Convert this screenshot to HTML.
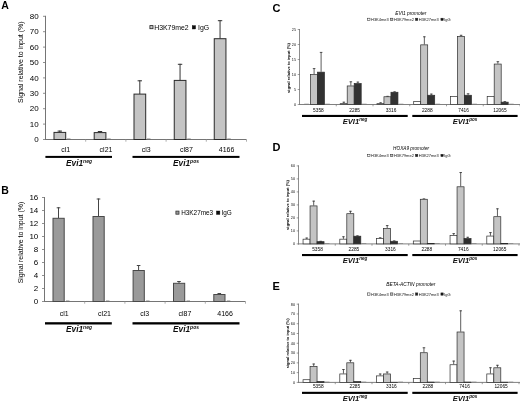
<!DOCTYPE html>
<html><head><meta charset="utf-8"><title>Figure</title>
<style>html,body{margin:0;padding:0;background:#fff;}svg{display:block;}text{font-family:"Liberation Sans",sans-serif;}</style>
</head><body>
<svg width="520" height="401" viewBox="0 0 520 401">
<defs><filter id="soft" x="0" y="0" width="100%" height="100%" filterUnits="userSpaceOnUse"><feGaussianBlur stdDeviation="0.25"/></filter></defs>
<rect width="520" height="401" fill="#fff"/>
<g filter="url(#soft)">
<rect width="520" height="401" fill="#fff"/>
<text x="1.2" y="8.9" font-size="10.5" text-anchor="start" font-weight="bold" font-style="normal" fill="#000" >A</text>
<line x1="45.50" y1="15.80" x2="45.50" y2="140.00" stroke="#747474" stroke-width="1"/>
<line x1="45.00" y1="139.50" x2="246.50" y2="139.50" stroke="#747474" stroke-width="1"/>
<line x1="43.00" y1="139.50" x2="45.50" y2="139.50" stroke="#747474" stroke-width="0.8"/>
<text x="38.6" y="142.25" font-size="8" text-anchor="end" font-weight="normal" font-style="normal" fill="#000" >0</text>
<line x1="43.00" y1="124.10" x2="45.50" y2="124.10" stroke="#747474" stroke-width="0.8"/>
<text x="38.6" y="126.85" font-size="8" text-anchor="end" font-weight="normal" font-style="normal" fill="#000" >10</text>
<line x1="43.00" y1="108.70" x2="45.50" y2="108.70" stroke="#747474" stroke-width="0.8"/>
<text x="38.6" y="111.45" font-size="8" text-anchor="end" font-weight="normal" font-style="normal" fill="#000" >20</text>
<line x1="43.00" y1="93.30" x2="45.50" y2="93.30" stroke="#747474" stroke-width="0.8"/>
<text x="38.6" y="96.05" font-size="8" text-anchor="end" font-weight="normal" font-style="normal" fill="#000" >30</text>
<line x1="43.00" y1="77.90" x2="45.50" y2="77.90" stroke="#747474" stroke-width="0.8"/>
<text x="38.6" y="80.65" font-size="8" text-anchor="end" font-weight="normal" font-style="normal" fill="#000" >40</text>
<line x1="43.00" y1="62.50" x2="45.50" y2="62.50" stroke="#747474" stroke-width="0.8"/>
<text x="38.6" y="65.25" font-size="8" text-anchor="end" font-weight="normal" font-style="normal" fill="#000" >50</text>
<line x1="43.00" y1="47.10" x2="45.50" y2="47.10" stroke="#747474" stroke-width="0.8"/>
<text x="38.6" y="49.849999999999994" font-size="8" text-anchor="end" font-weight="normal" font-style="normal" fill="#000" >60</text>
<line x1="43.00" y1="31.70" x2="45.50" y2="31.70" stroke="#747474" stroke-width="0.8"/>
<text x="38.6" y="34.45" font-size="8" text-anchor="end" font-weight="normal" font-style="normal" fill="#000" >70</text>
<line x1="43.00" y1="16.30" x2="45.50" y2="16.30" stroke="#747474" stroke-width="0.8"/>
<text x="38.6" y="19.049999999999997" font-size="8" text-anchor="end" font-weight="normal" font-style="normal" fill="#000" >80</text>
<line x1="85.70" y1="139.50" x2="85.70" y2="141.70" stroke="#999" stroke-width="0.8"/>
<line x1="125.90" y1="139.50" x2="125.90" y2="141.70" stroke="#999" stroke-width="0.8"/>
<line x1="166.10" y1="139.50" x2="166.10" y2="141.70" stroke="#999" stroke-width="0.8"/>
<line x1="206.30" y1="139.50" x2="206.30" y2="141.70" stroke="#999" stroke-width="0.8"/>
<line x1="246.50" y1="139.50" x2="246.50" y2="141.70" stroke="#999" stroke-width="0.8"/>
<text transform="translate(23,62.2) rotate(-90)" font-size="7" text-anchor="middle" fill="#000">Signal relative to input (%)</text>
<line x1="59.80" y1="130.60" x2="59.80" y2="132.40" stroke="#333" stroke-width="1.0"/>
<line x1="57.60" y1="131.10" x2="62.00" y2="131.10" stroke="#333" stroke-width="1.0"/>
<rect x="54.00" y="132.40" width="11.70" height="7.10" fill="#c4c4c4" stroke="#2a2a2a" stroke-width="1.0"/>
<line x1="67.00" y1="139.00" x2="70.50" y2="139.00" stroke="#666" stroke-width="0.8"/>
<line x1="100.00" y1="131.00" x2="100.00" y2="132.60" stroke="#333" stroke-width="1.0"/>
<line x1="97.80" y1="131.50" x2="102.20" y2="131.50" stroke="#333" stroke-width="1.0"/>
<rect x="94.20" y="132.60" width="11.70" height="6.90" fill="#c4c4c4" stroke="#2a2a2a" stroke-width="1.0"/>
<line x1="107.20" y1="139.00" x2="110.70" y2="139.00" stroke="#666" stroke-width="0.8"/>
<line x1="139.80" y1="80.30" x2="139.80" y2="94.10" stroke="#333" stroke-width="1.0"/>
<line x1="137.60" y1="80.80" x2="142.00" y2="80.80" stroke="#333" stroke-width="1.0"/>
<rect x="134.00" y="94.10" width="11.70" height="45.40" fill="#c4c4c4" stroke="#2a2a2a" stroke-width="1.0"/>
<line x1="147.00" y1="139.00" x2="150.50" y2="139.00" stroke="#666" stroke-width="0.8"/>
<line x1="180.05" y1="63.80" x2="180.05" y2="80.40" stroke="#333" stroke-width="1.0"/>
<line x1="177.85" y1="64.30" x2="182.25" y2="64.30" stroke="#333" stroke-width="1.0"/>
<rect x="174.25" y="80.40" width="11.70" height="59.10" fill="#c4c4c4" stroke="#2a2a2a" stroke-width="1.0"/>
<line x1="187.25" y1="139.00" x2="190.75" y2="139.00" stroke="#666" stroke-width="0.8"/>
<line x1="220.05" y1="20.20" x2="220.05" y2="38.70" stroke="#333" stroke-width="1.0"/>
<line x1="217.85" y1="20.70" x2="222.25" y2="20.70" stroke="#333" stroke-width="1.0"/>
<rect x="214.25" y="38.70" width="11.70" height="100.80" fill="#c4c4c4" stroke="#2a2a2a" stroke-width="1.0"/>
<line x1="227.25" y1="139.00" x2="230.75" y2="139.00" stroke="#666" stroke-width="0.8"/>
<text x="65.8" y="151.6" font-size="7" text-anchor="middle" font-weight="normal" font-style="normal" fill="#000" >cl1</text>
<text x="106.00000000000001" y="151.6" font-size="7" text-anchor="middle" font-weight="normal" font-style="normal" fill="#000" >cl21</text>
<text x="146.2" y="151.6" font-size="7" text-anchor="middle" font-weight="normal" font-style="normal" fill="#000" >cl3</text>
<text x="186.4" y="151.6" font-size="7" text-anchor="middle" font-weight="normal" font-style="normal" fill="#000" >cl87</text>
<text x="226.6" y="151.6" font-size="7" text-anchor="middle" font-weight="normal" font-style="normal" fill="#000" >4166</text>
<rect x="149.90" y="25.60" width="3.10" height="3.10" fill="#c4c4c4" stroke="#222" stroke-width="0.8"/>
<text x="154.2" y="30" font-size="6.9" text-anchor="start" font-weight="normal" font-style="normal" fill="#000" >H3K79me2</text>
<rect x="192.20" y="25.60" width="3.40" height="3.40" fill="#111" stroke="#111" stroke-width="0.4"/>
<text x="198.0" y="30" font-size="6.9" text-anchor="start" font-weight="normal" font-style="normal" fill="#000" >IgG</text>
<rect x="45.4" y="155.9" width="66.6" height="2" fill="#000"/>
<rect x="132.5" y="155.9" width="107" height="2" fill="#000"/>
<text x="79" y="166" font-size="8.3" text-anchor="middle" font-weight="bold" font-style="italic" fill="#111">Evi1<tspan font-size="4.98" dy="-3.15">neg</tspan></text>
<text x="186" y="166" font-size="8.3" text-anchor="middle" font-weight="bold" font-style="italic" fill="#111">Evi1<tspan font-size="4.98" dy="-3.15">pos</tspan></text>
<text x="1.2" y="194.3" font-size="10.5" text-anchor="start" font-weight="bold" font-style="normal" fill="#000" >B</text>
<line x1="44.50" y1="197.00" x2="44.50" y2="302.00" stroke="#747474" stroke-width="1"/>
<line x1="44.00" y1="301.50" x2="245.50" y2="301.50" stroke="#747474" stroke-width="1"/>
<line x1="42.00" y1="301.50" x2="44.50" y2="301.50" stroke="#747474" stroke-width="0.8"/>
<text x="38.3" y="304.25" font-size="8" text-anchor="end" font-weight="normal" font-style="normal" fill="#000" >0</text>
<line x1="42.00" y1="288.50" x2="44.50" y2="288.50" stroke="#747474" stroke-width="0.8"/>
<text x="38.3" y="291.25" font-size="8" text-anchor="end" font-weight="normal" font-style="normal" fill="#000" >2</text>
<line x1="42.00" y1="275.50" x2="44.50" y2="275.50" stroke="#747474" stroke-width="0.8"/>
<text x="38.3" y="278.25" font-size="8" text-anchor="end" font-weight="normal" font-style="normal" fill="#000" >4</text>
<line x1="42.00" y1="262.50" x2="44.50" y2="262.50" stroke="#747474" stroke-width="0.8"/>
<text x="38.3" y="265.25" font-size="8" text-anchor="end" font-weight="normal" font-style="normal" fill="#000" >6</text>
<line x1="42.00" y1="249.50" x2="44.50" y2="249.50" stroke="#747474" stroke-width="0.8"/>
<text x="38.3" y="252.25" font-size="8" text-anchor="end" font-weight="normal" font-style="normal" fill="#000" >8</text>
<line x1="42.00" y1="236.50" x2="44.50" y2="236.50" stroke="#747474" stroke-width="0.8"/>
<text x="38.3" y="239.25" font-size="8" text-anchor="end" font-weight="normal" font-style="normal" fill="#000" >10</text>
<line x1="42.00" y1="223.50" x2="44.50" y2="223.50" stroke="#747474" stroke-width="0.8"/>
<text x="38.3" y="226.25" font-size="8" text-anchor="end" font-weight="normal" font-style="normal" fill="#000" >12</text>
<line x1="42.00" y1="210.50" x2="44.50" y2="210.50" stroke="#747474" stroke-width="0.8"/>
<text x="38.3" y="213.25" font-size="8" text-anchor="end" font-weight="normal" font-style="normal" fill="#000" >14</text>
<line x1="42.00" y1="197.50" x2="44.50" y2="197.50" stroke="#747474" stroke-width="0.8"/>
<text x="38.3" y="200.25" font-size="8" text-anchor="end" font-weight="normal" font-style="normal" fill="#000" >16</text>
<line x1="84.70" y1="301.50" x2="84.70" y2="303.70" stroke="#999" stroke-width="0.8"/>
<line x1="124.90" y1="301.50" x2="124.90" y2="303.70" stroke="#999" stroke-width="0.8"/>
<line x1="165.10" y1="301.50" x2="165.10" y2="303.70" stroke="#999" stroke-width="0.8"/>
<line x1="205.30" y1="301.50" x2="205.30" y2="303.70" stroke="#999" stroke-width="0.8"/>
<line x1="245.50" y1="301.50" x2="245.50" y2="303.70" stroke="#999" stroke-width="0.8"/>
<text transform="translate(23,242.5) rotate(-90)" font-size="7" text-anchor="middle" fill="#000">Signal relative to input (%)</text>
<line x1="58.50" y1="207.30" x2="58.50" y2="218.30" stroke="#444" stroke-width="1.0"/>
<line x1="56.70" y1="207.80" x2="60.30" y2="207.80" stroke="#444" stroke-width="1.0"/>
<rect x="53.00" y="218.30" width="11.20" height="83.20" fill="#9a9a9a" stroke="#484848" stroke-width="1.0"/>
<line x1="66.00" y1="301.00" x2="69.50" y2="301.00" stroke="#666" stroke-width="0.8"/>
<line x1="98.50" y1="198.50" x2="98.50" y2="216.50" stroke="#444" stroke-width="1.0"/>
<line x1="96.70" y1="199.00" x2="100.30" y2="199.00" stroke="#444" stroke-width="1.0"/>
<rect x="93.00" y="216.50" width="11.20" height="85.00" fill="#9a9a9a" stroke="#484848" stroke-width="1.0"/>
<line x1="106.00" y1="301.00" x2="109.50" y2="301.00" stroke="#666" stroke-width="0.8"/>
<line x1="138.60" y1="265.00" x2="138.60" y2="270.50" stroke="#444" stroke-width="1.0"/>
<line x1="136.80" y1="265.50" x2="140.40" y2="265.50" stroke="#444" stroke-width="1.0"/>
<rect x="133.10" y="270.50" width="11.20" height="31.00" fill="#9a9a9a" stroke="#484848" stroke-width="1.0"/>
<line x1="146.10" y1="301.00" x2="149.60" y2="301.00" stroke="#666" stroke-width="0.8"/>
<line x1="179.00" y1="281.00" x2="179.00" y2="283.30" stroke="#444" stroke-width="1.0"/>
<line x1="177.20" y1="281.50" x2="180.80" y2="281.50" stroke="#444" stroke-width="1.0"/>
<rect x="173.50" y="283.30" width="11.20" height="18.20" fill="#9a9a9a" stroke="#484848" stroke-width="1.0"/>
<line x1="186.50" y1="301.00" x2="190.00" y2="301.00" stroke="#666" stroke-width="0.8"/>
<line x1="219.30" y1="293.00" x2="219.30" y2="294.50" stroke="#444" stroke-width="1.0"/>
<line x1="217.50" y1="293.50" x2="221.10" y2="293.50" stroke="#444" stroke-width="1.0"/>
<rect x="213.80" y="294.50" width="11.20" height="7.00" fill="#9a9a9a" stroke="#484848" stroke-width="1.0"/>
<line x1="226.80" y1="301.00" x2="230.30" y2="301.00" stroke="#666" stroke-width="0.8"/>
<text x="64.3" y="316" font-size="7" text-anchor="middle" font-weight="normal" font-style="normal" fill="#000" >cl1</text>
<text x="104.50000000000001" y="316" font-size="7" text-anchor="middle" font-weight="normal" font-style="normal" fill="#000" >cl21</text>
<text x="144.7" y="316" font-size="7" text-anchor="middle" font-weight="normal" font-style="normal" fill="#000" >cl3</text>
<text x="184.9" y="316" font-size="7" text-anchor="middle" font-weight="normal" font-style="normal" fill="#000" >cl87</text>
<text x="225.1" y="316" font-size="7" text-anchor="middle" font-weight="normal" font-style="normal" fill="#000" >4166</text>
<rect x="175.90" y="211.10" width="3.10" height="3.10" fill="#9a9a9a" stroke="#333" stroke-width="0.8"/>
<text x="181.2" y="215.3" font-size="6.4" text-anchor="start" font-weight="normal" font-style="normal" fill="#000" >H3K27me3</text>
<rect x="216.40" y="211.00" width="3.50" height="3.50" fill="#111" stroke="#111" stroke-width="0.4"/>
<text x="221.4" y="215.3" font-size="6.4" text-anchor="start" font-weight="normal" font-style="normal" fill="#000" >IgG</text>
<rect x="45" y="322.2" width="66.8" height="2.3" fill="#000"/>
<rect x="132.5" y="322.2" width="107" height="2.3" fill="#000"/>
<text x="79" y="331.8" font-size="8.3" text-anchor="middle" font-weight="bold" font-style="italic" fill="#111">Evi1<tspan font-size="4.98" dy="-3.15">neg</tspan></text>
<text x="186" y="331.8" font-size="8.3" text-anchor="middle" font-weight="bold" font-style="italic" fill="#111">Evi1<tspan font-size="4.98" dy="-3.15">pos</tspan></text>
<text x="272.6" y="12.4" font-size="11" text-anchor="start" font-weight="bold" font-style="normal" fill="#000" >C</text>
<line x1="299.50" y1="29.00" x2="299.50" y2="105.00" stroke="#808080" stroke-width="0.9"/>
<line x1="299.00" y1="104.50" x2="520.00" y2="104.50" stroke="#808080" stroke-width="1.0"/>
<line x1="297.70" y1="104.50" x2="300.00" y2="104.50" stroke="#747474" stroke-width="0.7"/>
<text x="296.0" y="105.9" font-size="3.8" text-anchor="end" font-weight="normal" font-style="normal" fill="#111" >0</text>
<line x1="297.70" y1="89.50" x2="300.00" y2="89.50" stroke="#747474" stroke-width="0.7"/>
<text x="296.0" y="90.9" font-size="3.8" text-anchor="end" font-weight="normal" font-style="normal" fill="#111" >5</text>
<line x1="297.70" y1="74.50" x2="300.00" y2="74.50" stroke="#747474" stroke-width="0.7"/>
<text x="296.0" y="75.9" font-size="3.8" text-anchor="end" font-weight="normal" font-style="normal" fill="#111" >10</text>
<line x1="297.70" y1="59.50" x2="300.00" y2="59.50" stroke="#747474" stroke-width="0.7"/>
<text x="296.0" y="60.9" font-size="3.8" text-anchor="end" font-weight="normal" font-style="normal" fill="#111" >15</text>
<line x1="297.70" y1="44.50" x2="300.00" y2="44.50" stroke="#747474" stroke-width="0.7"/>
<text x="296.0" y="45.9" font-size="3.8" text-anchor="end" font-weight="normal" font-style="normal" fill="#111" >20</text>
<line x1="297.70" y1="29.50" x2="300.00" y2="29.50" stroke="#747474" stroke-width="0.7"/>
<text x="296.0" y="30.9" font-size="3.8" text-anchor="end" font-weight="normal" font-style="normal" fill="#111" >25</text>
<line x1="336.25" y1="104.50" x2="336.25" y2="106.30" stroke="#747474" stroke-width="0.7"/>
<line x1="373.00" y1="104.50" x2="373.00" y2="106.30" stroke="#747474" stroke-width="0.7"/>
<line x1="409.75" y1="104.50" x2="409.75" y2="106.30" stroke="#747474" stroke-width="0.7"/>
<line x1="446.50" y1="104.50" x2="446.50" y2="106.30" stroke="#747474" stroke-width="0.7"/>
<line x1="483.25" y1="104.50" x2="483.25" y2="106.30" stroke="#747474" stroke-width="0.7"/>
<line x1="520.00" y1="104.50" x2="520.00" y2="106.30" stroke="#747474" stroke-width="0.7"/>
<text transform="translate(289.9,68) rotate(-90)" font-size="4" text-anchor="middle" font-weight="bold" fill="#000">signal relative to input (%)</text>
<text x="395.2" y="15.2" font-size="4.85" text-anchor="start" font-weight="normal" font-style="italic" fill="#000" >EVI1 promoter</text>
<rect x="367.70" y="18.20" width="2.30" height="2.30" fill="#fff" stroke="#222" stroke-width="0.5"/>
<text x="371.0" y="20.799999999999997" font-size="4" text-anchor="start" font-weight="normal" font-style="normal" fill="#111" >H3K4me3</text>
<rect x="390.60" y="18.20" width="2.30" height="2.30" fill="#c4c4c4" stroke="#222" stroke-width="0.5"/>
<text x="393.90000000000003" y="20.799999999999997" font-size="4" text-anchor="start" font-weight="normal" font-style="normal" fill="#111" >H3K79me2</text>
<rect x="415.50" y="18.20" width="2.30" height="2.30" fill="#222" stroke="#222" stroke-width="0.5"/>
<text x="418.8" y="20.799999999999997" font-size="4" text-anchor="start" font-weight="normal" font-style="normal" fill="#111" >H3K27me3</text>
<rect x="440.90" y="18.20" width="2.30" height="2.30" fill="#111" stroke="#222" stroke-width="0.5"/>
<text x="444.2" y="20.799999999999997" font-size="4" text-anchor="start" font-weight="normal" font-style="normal" fill="#111" >IgG</text>
<line x1="304.20" y1="104.10" x2="308.90" y2="104.10" stroke="#777" stroke-width="0.6"/>
<line x1="314.10" y1="68.20" x2="314.10" y2="74.20" stroke="#333" stroke-width="0.8"/>
<line x1="312.80" y1="68.60" x2="315.40" y2="68.60" stroke="#333" stroke-width="0.8"/>
<rect x="310.45" y="74.55" width="7.00" height="29.95" fill="#c4c4c4" stroke="#2c2c2c" stroke-width="0.7"/>
<line x1="321.10" y1="52.00" x2="321.10" y2="71.80" stroke="#333" stroke-width="0.8"/>
<line x1="319.80" y1="52.40" x2="322.40" y2="52.40" stroke="#333" stroke-width="0.8"/>
<rect x="317.45" y="72.15" width="7.00" height="32.35" fill="#333" stroke="#2c2c2c" stroke-width="0.7"/>
<line x1="325.20" y1="104.10" x2="329.90" y2="104.10" stroke="#777" stroke-width="0.6"/>
<line x1="343.85" y1="101.80" x2="343.85" y2="103.30" stroke="#333" stroke-width="0.8"/>
<line x1="342.55" y1="102.20" x2="345.15" y2="102.20" stroke="#333" stroke-width="0.8"/>
<rect x="340.20" y="103.65" width="7.00" height="0.85" fill="#ffffff" stroke="#2c2c2c" stroke-width="0.7"/>
<line x1="350.85" y1="81.40" x2="350.85" y2="85.60" stroke="#333" stroke-width="0.8"/>
<line x1="349.55" y1="81.80" x2="352.15" y2="81.80" stroke="#333" stroke-width="0.8"/>
<rect x="347.20" y="85.95" width="7.00" height="18.55" fill="#c4c4c4" stroke="#2c2c2c" stroke-width="0.7"/>
<line x1="357.85" y1="81.70" x2="357.85" y2="83.20" stroke="#333" stroke-width="0.8"/>
<line x1="356.55" y1="82.10" x2="359.15" y2="82.10" stroke="#333" stroke-width="0.8"/>
<rect x="354.20" y="83.55" width="7.00" height="20.95" fill="#333" stroke="#2c2c2c" stroke-width="0.7"/>
<line x1="361.95" y1="104.10" x2="366.65" y2="104.10" stroke="#777" stroke-width="0.6"/>
<line x1="380.60" y1="102.40" x2="380.60" y2="103.30" stroke="#333" stroke-width="0.8"/>
<line x1="379.30" y1="102.80" x2="381.90" y2="102.80" stroke="#333" stroke-width="0.8"/>
<rect x="376.95" y="103.65" width="7.00" height="0.85" fill="#ffffff" stroke="#2c2c2c" stroke-width="0.7"/>
<line x1="387.60" y1="95.95" x2="387.60" y2="96.40" stroke="#333" stroke-width="0.8"/>
<line x1="386.30" y1="96.35" x2="388.90" y2="96.35" stroke="#333" stroke-width="0.8"/>
<rect x="383.95" y="96.75" width="7.00" height="7.75" fill="#c4c4c4" stroke="#2c2c2c" stroke-width="0.7"/>
<line x1="394.60" y1="91.45" x2="394.60" y2="91.90" stroke="#333" stroke-width="0.8"/>
<line x1="393.30" y1="91.85" x2="395.90" y2="91.85" stroke="#333" stroke-width="0.8"/>
<rect x="390.95" y="92.25" width="7.00" height="12.25" fill="#333" stroke="#2c2c2c" stroke-width="0.7"/>
<line x1="398.70" y1="104.10" x2="403.40" y2="104.10" stroke="#777" stroke-width="0.6"/>
<rect x="413.70" y="101.55" width="7.00" height="2.95" fill="#ffffff" stroke="#2c2c2c" stroke-width="0.7"/>
<line x1="424.35" y1="36.40" x2="424.35" y2="44.50" stroke="#333" stroke-width="0.8"/>
<line x1="423.05" y1="36.80" x2="425.65" y2="36.80" stroke="#333" stroke-width="0.8"/>
<rect x="420.70" y="44.85" width="7.00" height="59.65" fill="#c4c4c4" stroke="#2c2c2c" stroke-width="0.7"/>
<line x1="431.35" y1="93.70" x2="431.35" y2="94.90" stroke="#333" stroke-width="0.8"/>
<line x1="430.05" y1="94.10" x2="432.65" y2="94.10" stroke="#333" stroke-width="0.8"/>
<rect x="427.70" y="95.25" width="7.00" height="9.25" fill="#333" stroke="#2c2c2c" stroke-width="0.7"/>
<line x1="435.45" y1="104.10" x2="440.15" y2="104.10" stroke="#777" stroke-width="0.6"/>
<rect x="450.45" y="96.60" width="7.00" height="7.90" fill="#ffffff" stroke="#2c2c2c" stroke-width="0.7"/>
<line x1="461.10" y1="34.90" x2="461.10" y2="36.10" stroke="#333" stroke-width="0.8"/>
<line x1="459.80" y1="35.30" x2="462.40" y2="35.30" stroke="#333" stroke-width="0.8"/>
<rect x="457.45" y="36.45" width="7.00" height="68.05" fill="#c4c4c4" stroke="#2c2c2c" stroke-width="0.7"/>
<line x1="468.10" y1="93.40" x2="468.10" y2="94.90" stroke="#333" stroke-width="0.8"/>
<line x1="466.80" y1="93.80" x2="469.40" y2="93.80" stroke="#333" stroke-width="0.8"/>
<rect x="464.45" y="95.25" width="7.00" height="9.25" fill="#333" stroke="#2c2c2c" stroke-width="0.7"/>
<line x1="472.20" y1="104.10" x2="476.90" y2="104.10" stroke="#777" stroke-width="0.6"/>
<rect x="487.20" y="96.60" width="7.00" height="7.90" fill="#ffffff" stroke="#2c2c2c" stroke-width="0.7"/>
<line x1="497.85" y1="61.30" x2="497.85" y2="63.70" stroke="#333" stroke-width="0.8"/>
<line x1="496.55" y1="61.70" x2="499.15" y2="61.70" stroke="#333" stroke-width="0.8"/>
<rect x="494.20" y="64.05" width="7.00" height="40.45" fill="#c4c4c4" stroke="#2c2c2c" stroke-width="0.7"/>
<line x1="504.85" y1="101.20" x2="504.85" y2="101.80" stroke="#333" stroke-width="0.8"/>
<line x1="503.55" y1="101.60" x2="506.15" y2="101.60" stroke="#333" stroke-width="0.8"/>
<rect x="501.20" y="102.15" width="7.00" height="2.35" fill="#333" stroke="#2c2c2c" stroke-width="0.7"/>
<line x1="508.95" y1="104.10" x2="513.65" y2="104.10" stroke="#777" stroke-width="0.6"/>
<text x="318.4" y="112.2" font-size="4.8" text-anchor="middle" font-weight="normal" font-style="normal" fill="#000" >5358</text>
<text x="354.7" y="112.2" font-size="4.8" text-anchor="middle" font-weight="normal" font-style="normal" fill="#000" >2285</text>
<text x="391.0" y="112.2" font-size="4.8" text-anchor="middle" font-weight="normal" font-style="normal" fill="#000" >3316</text>
<text x="427.29999999999995" y="112.2" font-size="4.8" text-anchor="middle" font-weight="normal" font-style="normal" fill="#000" >2288</text>
<text x="463.59999999999997" y="112.2" font-size="4.8" text-anchor="middle" font-weight="normal" font-style="normal" fill="#000" >7416</text>
<text x="499.9" y="112.2" font-size="4.8" text-anchor="middle" font-weight="normal" font-style="normal" fill="#000" >12065</text>
<rect x="302" y="114.9" width="105.69999999999999" height="2.1" fill="#000"/>
<rect x="412.3" y="114.9" width="105.30000000000001" height="2.1" fill="#000"/>
<text x="355" y="124.2" font-size="7.6" text-anchor="middle" font-weight="bold" font-style="italic" fill="#111">EVI1<tspan font-size="4.56" dy="-2.89">neg</tspan></text>
<text x="465" y="124.2" font-size="7.6" text-anchor="middle" font-weight="bold" font-style="italic" fill="#111">EVI1<tspan font-size="4.56" dy="-2.89">pos</tspan></text>
<text x="272.6" y="151" font-size="11" text-anchor="start" font-weight="bold" font-style="normal" fill="#000" >D</text>
<line x1="298.50" y1="165.40" x2="298.50" y2="244.40" stroke="#808080" stroke-width="0.9"/>
<line x1="298.00" y1="243.90" x2="520.00" y2="243.90" stroke="#808080" stroke-width="1.0"/>
<line x1="296.70" y1="243.90" x2="299.00" y2="243.90" stroke="#747474" stroke-width="0.7"/>
<text x="295.0" y="245.3" font-size="3.8" text-anchor="end" font-weight="normal" font-style="normal" fill="#111" >0</text>
<line x1="296.70" y1="230.90" x2="299.00" y2="230.90" stroke="#747474" stroke-width="0.7"/>
<text x="295.0" y="232.3" font-size="3.8" text-anchor="end" font-weight="normal" font-style="normal" fill="#111" >10</text>
<line x1="296.70" y1="217.90" x2="299.00" y2="217.90" stroke="#747474" stroke-width="0.7"/>
<text x="295.0" y="219.3" font-size="3.8" text-anchor="end" font-weight="normal" font-style="normal" fill="#111" >20</text>
<line x1="296.70" y1="204.90" x2="299.00" y2="204.90" stroke="#747474" stroke-width="0.7"/>
<text x="295.0" y="206.3" font-size="3.8" text-anchor="end" font-weight="normal" font-style="normal" fill="#111" >30</text>
<line x1="296.70" y1="191.90" x2="299.00" y2="191.90" stroke="#747474" stroke-width="0.7"/>
<text x="295.0" y="193.3" font-size="3.8" text-anchor="end" font-weight="normal" font-style="normal" fill="#111" >40</text>
<line x1="296.70" y1="178.90" x2="299.00" y2="178.90" stroke="#747474" stroke-width="0.7"/>
<text x="295.0" y="180.3" font-size="3.8" text-anchor="end" font-weight="normal" font-style="normal" fill="#111" >50</text>
<line x1="296.70" y1="165.90" x2="299.00" y2="165.90" stroke="#747474" stroke-width="0.7"/>
<text x="295.0" y="167.3" font-size="3.8" text-anchor="end" font-weight="normal" font-style="normal" fill="#111" >60</text>
<line x1="335.25" y1="243.90" x2="335.25" y2="245.70" stroke="#747474" stroke-width="0.7"/>
<line x1="372.00" y1="243.90" x2="372.00" y2="245.70" stroke="#747474" stroke-width="0.7"/>
<line x1="408.75" y1="243.90" x2="408.75" y2="245.70" stroke="#747474" stroke-width="0.7"/>
<line x1="445.50" y1="243.90" x2="445.50" y2="245.70" stroke="#747474" stroke-width="0.7"/>
<line x1="482.25" y1="243.90" x2="482.25" y2="245.70" stroke="#747474" stroke-width="0.7"/>
<line x1="519.00" y1="243.90" x2="519.00" y2="245.70" stroke="#747474" stroke-width="0.7"/>
<text transform="translate(288.9,205) rotate(-90)" font-size="4" text-anchor="middle" font-weight="bold" fill="#000">signal relative to input (%)</text>
<text x="393.1" y="150.3" font-size="4.7" text-anchor="start" font-weight="normal" font-style="italic" fill="#000" >HOXA9 promoter</text>
<rect x="367.70" y="154.30" width="2.30" height="2.30" fill="#fff" stroke="#222" stroke-width="0.5"/>
<text x="371.0" y="156.9" font-size="4" text-anchor="start" font-weight="normal" font-style="normal" fill="#111" >H3K4me3</text>
<rect x="390.60" y="154.30" width="2.30" height="2.30" fill="#c4c4c4" stroke="#222" stroke-width="0.5"/>
<text x="393.90000000000003" y="156.9" font-size="4" text-anchor="start" font-weight="normal" font-style="normal" fill="#111" >H3K79me2</text>
<rect x="415.50" y="154.30" width="2.30" height="2.30" fill="#222" stroke="#222" stroke-width="0.5"/>
<text x="418.8" y="156.9" font-size="4" text-anchor="start" font-weight="normal" font-style="normal" fill="#111" >H3K27me3</text>
<rect x="440.90" y="154.30" width="2.30" height="2.30" fill="#111" stroke="#222" stroke-width="0.5"/>
<text x="444.2" y="156.9" font-size="4" text-anchor="start" font-weight="normal" font-style="normal" fill="#111" >IgG</text>
<line x1="306.70" y1="237.66" x2="306.70" y2="238.83" stroke="#333" stroke-width="0.8"/>
<line x1="305.40" y1="238.06" x2="308.00" y2="238.06" stroke="#333" stroke-width="0.8"/>
<rect x="303.05" y="239.18" width="7.00" height="4.72" fill="#ffffff" stroke="#2c2c2c" stroke-width="0.7"/>
<line x1="313.70" y1="200.74" x2="313.70" y2="205.55" stroke="#333" stroke-width="0.8"/>
<line x1="312.40" y1="201.14" x2="315.00" y2="201.14" stroke="#333" stroke-width="0.8"/>
<rect x="310.05" y="205.90" width="7.00" height="38.00" fill="#c4c4c4" stroke="#2c2c2c" stroke-width="0.7"/>
<line x1="320.70" y1="240.91" x2="320.70" y2="241.30" stroke="#333" stroke-width="0.8"/>
<line x1="319.40" y1="241.31" x2="322.00" y2="241.31" stroke="#333" stroke-width="0.8"/>
<rect x="317.05" y="241.65" width="7.00" height="2.25" fill="#2e2e2e" stroke="#2c2c2c" stroke-width="0.7"/>
<line x1="324.80" y1="243.50" x2="329.50" y2="243.50" stroke="#777" stroke-width="0.6"/>
<line x1="343.45" y1="236.36" x2="343.45" y2="238.83" stroke="#333" stroke-width="0.8"/>
<line x1="342.15" y1="236.76" x2="344.75" y2="236.76" stroke="#333" stroke-width="0.8"/>
<rect x="339.80" y="239.18" width="7.00" height="4.72" fill="#ffffff" stroke="#2c2c2c" stroke-width="0.7"/>
<line x1="350.45" y1="210.88" x2="350.45" y2="213.35" stroke="#333" stroke-width="0.8"/>
<line x1="349.15" y1="211.28" x2="351.75" y2="211.28" stroke="#333" stroke-width="0.8"/>
<rect x="346.80" y="213.70" width="7.00" height="30.20" fill="#c4c4c4" stroke="#2c2c2c" stroke-width="0.7"/>
<line x1="357.45" y1="235.45" x2="357.45" y2="235.84" stroke="#333" stroke-width="0.8"/>
<line x1="356.15" y1="235.85" x2="358.75" y2="235.85" stroke="#333" stroke-width="0.8"/>
<rect x="353.80" y="236.19" width="7.00" height="7.71" fill="#2e2e2e" stroke="#2c2c2c" stroke-width="0.7"/>
<line x1="361.55" y1="243.50" x2="366.25" y2="243.50" stroke="#777" stroke-width="0.6"/>
<line x1="380.20" y1="237.40" x2="380.20" y2="238.18" stroke="#333" stroke-width="0.8"/>
<line x1="378.90" y1="237.80" x2="381.50" y2="237.80" stroke="#333" stroke-width="0.8"/>
<rect x="376.55" y="238.53" width="7.00" height="5.37" fill="#ffffff" stroke="#2c2c2c" stroke-width="0.7"/>
<line x1="387.20" y1="225.18" x2="387.20" y2="228.17" stroke="#333" stroke-width="0.8"/>
<line x1="385.90" y1="225.58" x2="388.50" y2="225.58" stroke="#333" stroke-width="0.8"/>
<rect x="383.55" y="228.52" width="7.00" height="15.38" fill="#c4c4c4" stroke="#2c2c2c" stroke-width="0.7"/>
<line x1="394.20" y1="240.52" x2="394.20" y2="240.91" stroke="#333" stroke-width="0.8"/>
<line x1="392.90" y1="240.92" x2="395.50" y2="240.92" stroke="#333" stroke-width="0.8"/>
<rect x="390.55" y="241.26" width="7.00" height="2.64" fill="#2e2e2e" stroke="#2c2c2c" stroke-width="0.7"/>
<line x1="398.30" y1="243.50" x2="403.00" y2="243.50" stroke="#777" stroke-width="0.6"/>
<rect x="413.30" y="241.00" width="7.00" height="2.90" fill="#ffffff" stroke="#2c2c2c" stroke-width="0.7"/>
<line x1="423.95" y1="198.53" x2="423.95" y2="198.92" stroke="#333" stroke-width="0.8"/>
<line x1="422.65" y1="198.93" x2="425.25" y2="198.93" stroke="#333" stroke-width="0.8"/>
<rect x="420.30" y="199.27" width="7.00" height="44.63" fill="#c4c4c4" stroke="#2c2c2c" stroke-width="0.7"/>
<rect x="427.30" y="243.47" width="7.00" height="0.43" fill="#2e2e2e" stroke="#2c2c2c" stroke-width="0.7"/>
<line x1="435.05" y1="243.50" x2="439.75" y2="243.50" stroke="#777" stroke-width="0.6"/>
<line x1="453.70" y1="233.24" x2="453.70" y2="235.19" stroke="#333" stroke-width="0.8"/>
<line x1="452.40" y1="233.64" x2="455.00" y2="233.64" stroke="#333" stroke-width="0.8"/>
<rect x="450.05" y="235.54" width="7.00" height="8.36" fill="#ffffff" stroke="#2c2c2c" stroke-width="0.7"/>
<line x1="460.70" y1="172.14" x2="460.70" y2="186.44" stroke="#333" stroke-width="0.8"/>
<line x1="459.40" y1="172.54" x2="462.00" y2="172.54" stroke="#333" stroke-width="0.8"/>
<rect x="457.05" y="186.79" width="7.00" height="57.11" fill="#c4c4c4" stroke="#2c2c2c" stroke-width="0.7"/>
<line x1="467.70" y1="236.88" x2="467.70" y2="238.18" stroke="#333" stroke-width="0.8"/>
<line x1="466.40" y1="237.28" x2="469.00" y2="237.28" stroke="#333" stroke-width="0.8"/>
<rect x="464.05" y="238.53" width="7.00" height="5.37" fill="#2e2e2e" stroke="#2c2c2c" stroke-width="0.7"/>
<line x1="471.80" y1="243.50" x2="476.50" y2="243.50" stroke="#777" stroke-width="0.6"/>
<line x1="490.45" y1="232.20" x2="490.45" y2="235.71" stroke="#333" stroke-width="0.8"/>
<line x1="489.15" y1="232.60" x2="491.75" y2="232.60" stroke="#333" stroke-width="0.8"/>
<rect x="486.80" y="236.06" width="7.00" height="7.84" fill="#ffffff" stroke="#2c2c2c" stroke-width="0.7"/>
<line x1="497.45" y1="208.41" x2="497.45" y2="216.34" stroke="#333" stroke-width="0.8"/>
<line x1="496.15" y1="208.81" x2="498.75" y2="208.81" stroke="#333" stroke-width="0.8"/>
<rect x="493.80" y="216.69" width="7.00" height="27.21" fill="#c4c4c4" stroke="#2c2c2c" stroke-width="0.7"/>
<rect x="500.80" y="243.47" width="7.00" height="0.43" fill="#2e2e2e" stroke="#2c2c2c" stroke-width="0.7"/>
<line x1="508.55" y1="243.50" x2="513.25" y2="243.50" stroke="#777" stroke-width="0.6"/>
<text x="317.5" y="250.5" font-size="4.8" text-anchor="middle" font-weight="normal" font-style="normal" fill="#000" >5358</text>
<text x="353.95" y="250.5" font-size="4.8" text-anchor="middle" font-weight="normal" font-style="normal" fill="#000" >2285</text>
<text x="390.4" y="250.5" font-size="4.8" text-anchor="middle" font-weight="normal" font-style="normal" fill="#000" >3316</text>
<text x="426.85" y="250.5" font-size="4.8" text-anchor="middle" font-weight="normal" font-style="normal" fill="#000" >2288</text>
<text x="463.3" y="250.5" font-size="4.8" text-anchor="middle" font-weight="normal" font-style="normal" fill="#000" >7416</text>
<text x="499.75" y="250.5" font-size="4.8" text-anchor="middle" font-weight="normal" font-style="normal" fill="#000" >12065</text>
<rect x="302" y="254.0" width="105.69999999999999" height="2.1" fill="#000"/>
<rect x="412.3" y="254.0" width="105.30000000000001" height="2.1" fill="#000"/>
<text x="355" y="263.2" font-size="7.6" text-anchor="middle" font-weight="bold" font-style="italic" fill="#111">EVI1<tspan font-size="4.56" dy="-2.89">neg</tspan></text>
<text x="465" y="263.2" font-size="7.6" text-anchor="middle" font-weight="bold" font-style="italic" fill="#111">EVI1<tspan font-size="4.56" dy="-2.89">pos</tspan></text>
<text x="272.6" y="289.8" font-size="11" text-anchor="start" font-weight="bold" font-style="normal" fill="#000" >E</text>
<line x1="298.50" y1="303.66" x2="298.50" y2="382.90" stroke="#808080" stroke-width="0.9"/>
<line x1="298.00" y1="382.40" x2="520.00" y2="382.40" stroke="#808080" stroke-width="1.0"/>
<line x1="296.70" y1="382.40" x2="299.00" y2="382.40" stroke="#747474" stroke-width="0.7"/>
<text x="295.0" y="383.79999999999995" font-size="3.8" text-anchor="end" font-weight="normal" font-style="normal" fill="#111" >0</text>
<line x1="296.70" y1="372.62" x2="299.00" y2="372.62" stroke="#747474" stroke-width="0.7"/>
<text x="295.0" y="374.02" font-size="3.8" text-anchor="end" font-weight="normal" font-style="normal" fill="#111" >10</text>
<line x1="296.70" y1="362.84" x2="299.00" y2="362.84" stroke="#747474" stroke-width="0.7"/>
<text x="295.0" y="364.23999999999995" font-size="3.8" text-anchor="end" font-weight="normal" font-style="normal" fill="#111" >20</text>
<line x1="296.70" y1="353.06" x2="299.00" y2="353.06" stroke="#747474" stroke-width="0.7"/>
<text x="295.0" y="354.46" font-size="3.8" text-anchor="end" font-weight="normal" font-style="normal" fill="#111" >30</text>
<line x1="296.70" y1="343.28" x2="299.00" y2="343.28" stroke="#747474" stroke-width="0.7"/>
<text x="295.0" y="344.67999999999995" font-size="3.8" text-anchor="end" font-weight="normal" font-style="normal" fill="#111" >40</text>
<line x1="296.70" y1="333.50" x2="299.00" y2="333.50" stroke="#747474" stroke-width="0.7"/>
<text x="295.0" y="334.9" font-size="3.8" text-anchor="end" font-weight="normal" font-style="normal" fill="#111" >50</text>
<line x1="296.70" y1="323.72" x2="299.00" y2="323.72" stroke="#747474" stroke-width="0.7"/>
<text x="295.0" y="325.11999999999995" font-size="3.8" text-anchor="end" font-weight="normal" font-style="normal" fill="#111" >60</text>
<line x1="296.70" y1="313.94" x2="299.00" y2="313.94" stroke="#747474" stroke-width="0.7"/>
<text x="295.0" y="315.34" font-size="3.8" text-anchor="end" font-weight="normal" font-style="normal" fill="#111" >70</text>
<line x1="296.70" y1="304.16" x2="299.00" y2="304.16" stroke="#747474" stroke-width="0.7"/>
<text x="295.0" y="305.55999999999995" font-size="3.8" text-anchor="end" font-weight="normal" font-style="normal" fill="#111" >80</text>
<line x1="335.25" y1="382.40" x2="335.25" y2="384.20" stroke="#747474" stroke-width="0.7"/>
<line x1="372.00" y1="382.40" x2="372.00" y2="384.20" stroke="#747474" stroke-width="0.7"/>
<line x1="408.75" y1="382.40" x2="408.75" y2="384.20" stroke="#747474" stroke-width="0.7"/>
<line x1="445.50" y1="382.40" x2="445.50" y2="384.20" stroke="#747474" stroke-width="0.7"/>
<line x1="482.25" y1="382.40" x2="482.25" y2="384.20" stroke="#747474" stroke-width="0.7"/>
<line x1="519.00" y1="382.40" x2="519.00" y2="384.20" stroke="#747474" stroke-width="0.7"/>
<text transform="translate(289.2,343.4) rotate(-90)" font-size="4" text-anchor="middle" font-weight="bold" fill="#000">signal relative to input (%)</text>
<text x="386.2" y="286.4" font-size="4.85" text-anchor="start" font-weight="normal" font-style="italic" fill="#000" >BETA-ACTIN promoter</text>
<rect x="367.70" y="292.90" width="2.30" height="2.30" fill="#fff" stroke="#222" stroke-width="0.5"/>
<text x="371.0" y="295.5" font-size="4" text-anchor="start" font-weight="normal" font-style="normal" fill="#111" >H3K4me3</text>
<rect x="390.60" y="292.90" width="2.30" height="2.30" fill="#c4c4c4" stroke="#222" stroke-width="0.5"/>
<text x="393.90000000000003" y="295.5" font-size="4" text-anchor="start" font-weight="normal" font-style="normal" fill="#111" >H3K79me2</text>
<rect x="415.50" y="292.90" width="2.30" height="2.30" fill="#222" stroke="#222" stroke-width="0.5"/>
<text x="418.8" y="295.5" font-size="4" text-anchor="start" font-weight="normal" font-style="normal" fill="#111" >H3K27me3</text>
<rect x="440.90" y="292.90" width="2.30" height="2.30" fill="#111" stroke="#222" stroke-width="0.5"/>
<text x="444.2" y="295.5" font-size="4" text-anchor="start" font-weight="normal" font-style="normal" fill="#111" >IgG</text>
<rect x="303.05" y="379.72" width="7.00" height="2.68" fill="#ffffff" stroke="#2c2c2c" stroke-width="0.7"/>
<line x1="313.70" y1="363.62" x2="313.70" y2="366.17" stroke="#333" stroke-width="0.8"/>
<line x1="312.40" y1="364.02" x2="315.00" y2="364.02" stroke="#333" stroke-width="0.8"/>
<rect x="310.05" y="366.52" width="7.00" height="15.88" fill="#c4c4c4" stroke="#2c2c2c" stroke-width="0.7"/>
<rect x="317.05" y="381.58" width="7.00" height="0.82" fill="#222" stroke="#2c2c2c" stroke-width="0.7"/>
<line x1="324.80" y1="382.00" x2="329.50" y2="382.00" stroke="#777" stroke-width="0.6"/>
<line x1="343.45" y1="369.10" x2="343.45" y2="373.60" stroke="#333" stroke-width="0.8"/>
<line x1="342.15" y1="369.50" x2="344.75" y2="369.50" stroke="#333" stroke-width="0.8"/>
<rect x="339.80" y="373.95" width="7.00" height="8.45" fill="#ffffff" stroke="#2c2c2c" stroke-width="0.7"/>
<line x1="350.45" y1="359.91" x2="350.45" y2="362.45" stroke="#333" stroke-width="0.8"/>
<line x1="349.15" y1="360.31" x2="351.75" y2="360.31" stroke="#333" stroke-width="0.8"/>
<rect x="346.80" y="362.80" width="7.00" height="19.60" fill="#c4c4c4" stroke="#2c2c2c" stroke-width="0.7"/>
<rect x="353.80" y="381.58" width="7.00" height="0.82" fill="#222" stroke="#2c2c2c" stroke-width="0.7"/>
<line x1="361.55" y1="382.00" x2="366.25" y2="382.00" stroke="#777" stroke-width="0.6"/>
<line x1="380.20" y1="373.60" x2="380.20" y2="375.55" stroke="#333" stroke-width="0.8"/>
<line x1="378.90" y1="374.00" x2="381.50" y2="374.00" stroke="#333" stroke-width="0.8"/>
<rect x="376.55" y="375.90" width="7.00" height="6.50" fill="#ffffff" stroke="#2c2c2c" stroke-width="0.7"/>
<line x1="387.20" y1="371.64" x2="387.20" y2="373.60" stroke="#333" stroke-width="0.8"/>
<line x1="385.90" y1="372.04" x2="388.50" y2="372.04" stroke="#333" stroke-width="0.8"/>
<rect x="383.55" y="373.95" width="7.00" height="8.45" fill="#c4c4c4" stroke="#2c2c2c" stroke-width="0.7"/>
<rect x="390.55" y="382.26" width="7.00" height="0.14" fill="#222" stroke="#2c2c2c" stroke-width="0.7"/>
<line x1="398.30" y1="382.00" x2="403.00" y2="382.00" stroke="#777" stroke-width="0.6"/>
<rect x="413.30" y="378.54" width="7.00" height="3.86" fill="#ffffff" stroke="#2c2c2c" stroke-width="0.7"/>
<line x1="423.95" y1="347.39" x2="423.95" y2="352.38" stroke="#333" stroke-width="0.8"/>
<line x1="422.65" y1="347.79" x2="425.25" y2="347.79" stroke="#333" stroke-width="0.8"/>
<rect x="420.30" y="352.73" width="7.00" height="29.67" fill="#c4c4c4" stroke="#2c2c2c" stroke-width="0.7"/>
<rect x="427.30" y="382.07" width="7.00" height="0.33" fill="#222" stroke="#2c2c2c" stroke-width="0.7"/>
<line x1="435.05" y1="382.00" x2="439.75" y2="382.00" stroke="#777" stroke-width="0.6"/>
<line x1="453.70" y1="360.69" x2="453.70" y2="364.40" stroke="#333" stroke-width="0.8"/>
<line x1="452.40" y1="361.09" x2="455.00" y2="361.09" stroke="#333" stroke-width="0.8"/>
<rect x="450.05" y="364.75" width="7.00" height="17.65" fill="#ffffff" stroke="#2c2c2c" stroke-width="0.7"/>
<line x1="460.70" y1="310.42" x2="460.70" y2="331.64" stroke="#333" stroke-width="0.8"/>
<line x1="459.40" y1="310.82" x2="462.00" y2="310.82" stroke="#333" stroke-width="0.8"/>
<rect x="457.05" y="331.99" width="7.00" height="50.41" fill="#c4c4c4" stroke="#2c2c2c" stroke-width="0.7"/>
<rect x="464.05" y="382.07" width="7.00" height="0.33" fill="#222" stroke="#2c2c2c" stroke-width="0.7"/>
<line x1="471.80" y1="382.00" x2="476.50" y2="382.00" stroke="#777" stroke-width="0.6"/>
<line x1="490.45" y1="367.34" x2="490.45" y2="373.60" stroke="#333" stroke-width="0.8"/>
<line x1="489.15" y1="367.74" x2="491.75" y2="367.74" stroke="#333" stroke-width="0.8"/>
<rect x="486.80" y="373.95" width="7.00" height="8.45" fill="#ffffff" stroke="#2c2c2c" stroke-width="0.7"/>
<line x1="497.45" y1="364.89" x2="497.45" y2="367.44" stroke="#333" stroke-width="0.8"/>
<line x1="496.15" y1="365.29" x2="498.75" y2="365.29" stroke="#333" stroke-width="0.8"/>
<rect x="493.80" y="367.79" width="7.00" height="14.61" fill="#c4c4c4" stroke="#2c2c2c" stroke-width="0.7"/>
<rect x="500.80" y="382.16" width="7.00" height="0.24" fill="#222" stroke="#2c2c2c" stroke-width="0.7"/>
<line x1="508.55" y1="382.00" x2="513.25" y2="382.00" stroke="#777" stroke-width="0.6"/>
<text x="318.3" y="387.8" font-size="4.8" text-anchor="middle" font-weight="normal" font-style="normal" fill="#000" >5358</text>
<text x="354.85" y="387.8" font-size="4.8" text-anchor="middle" font-weight="normal" font-style="normal" fill="#000" >2285</text>
<text x="391.4" y="387.8" font-size="4.8" text-anchor="middle" font-weight="normal" font-style="normal" fill="#000" >3316</text>
<text x="427.95" y="387.8" font-size="4.8" text-anchor="middle" font-weight="normal" font-style="normal" fill="#000" >2288</text>
<text x="464.5" y="387.8" font-size="4.8" text-anchor="middle" font-weight="normal" font-style="normal" fill="#000" >7416</text>
<text x="501.05" y="387.8" font-size="4.8" text-anchor="middle" font-weight="normal" font-style="normal" fill="#000" >12065</text>
<rect x="302" y="391.8" width="105.69999999999999" height="2.1" fill="#000"/>
<rect x="412.3" y="391.8" width="105.30000000000001" height="2.1" fill="#000"/>
<text x="355" y="401.1" font-size="7.6" text-anchor="middle" font-weight="bold" font-style="italic" fill="#111">EVI1<tspan font-size="4.56" dy="-2.89">neg</tspan></text>
<text x="465" y="401.1" font-size="7.6" text-anchor="middle" font-weight="bold" font-style="italic" fill="#111">EVI1<tspan font-size="4.56" dy="-2.89">pos</tspan></text>
</g>
</svg>
</body></html>
